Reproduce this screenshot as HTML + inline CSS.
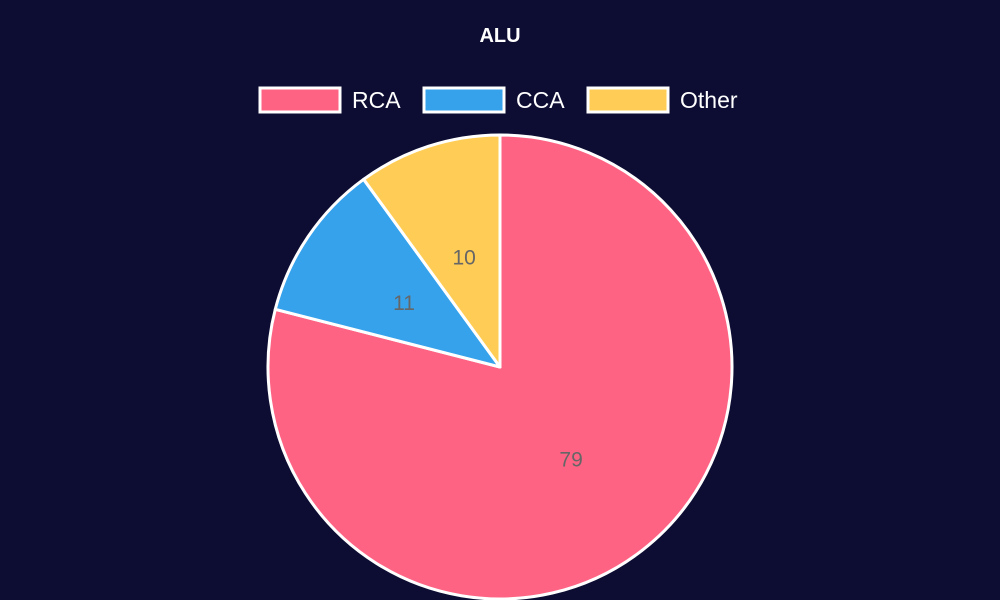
<!DOCTYPE html>
<html><head><meta charset="utf-8"><style>
html,body{margin:0;padding:0;background:#0d0d33;}
svg{display:block;font-family:"Liberation Sans",sans-serif;}
</style></head><body>
<svg id="chart" width="1000" height="600">
<rect width="1000" height="600" fill="#0d0d33"/>
<text x="500" y="42" text-anchor="middle" font-size="20" font-weight="bold" fill="#ffffff">ALU</text>
<g id="legend"></g>
<g id="slices"></g>
<g id="labels"></g>
</svg>
<script>
const categories = ["RCA", "CCA", "Other"];
const values = [79, 11, 10];
const colors = ["#ff6384", "#36a2eb", "#ffcd56"];
const NS = "http://www.w3.org/2000/svg";
const cx = 500, cy = 367, r = 232;
const total = values.reduce((a, b) => a + b, 0);
const slices = document.getElementById("slices");
const labels = document.getElementById("labels");
const legend = document.getElementById("legend");
function pt(a, rad) { return [cx + rad * Math.sin(a), cy - rad * Math.cos(a)]; }
let start = 0;
values.forEach((v, i) => {
  const sweep = v / total * Math.PI * 2;
  const end = start + sweep;
  const p0 = pt(start, r), p1 = pt(end, r);
  const large = sweep > Math.PI ? 1 : 0;
  const path = document.createElementNS(NS, "path");
  path.setAttribute("d", `M${cx},${cy} L${p0[0]},${p0[1]} A${r},${r} 0 ${large} 1 ${p1[0]},${p1[1]} Z`);
  path.setAttribute("fill", colors[i]);
  path.setAttribute("stroke", "#ffffff");
  path.setAttribute("stroke-width", "3");
  path.setAttribute("stroke-linejoin", "round");
  
  
  slices.appendChild(path);
  const mid = start + sweep / 2;
  const lp = pt(mid, r / 2);
  const t = document.createElementNS(NS, "text");
  t.setAttribute("x", lp[0]);
  t.setAttribute("y", lp[1] + 8);
  t.setAttribute("text-anchor", "middle");
  t.setAttribute("font-size", "21");
  t.setAttribute("fill", "#666666");
  t.textContent = v;
  
  
  labels.appendChild(t);
  start = end;
});
const legendX = [260, 424, 588];
categories.forEach((c, i) => {
  const g = document.createElementNS(NS, "g");
  
  
  const rc = document.createElementNS(NS, "rect");
  rc.setAttribute("x", legendX[i]); rc.setAttribute("y", 88);
  rc.setAttribute("width", 80); rc.setAttribute("height", 24);
  rc.setAttribute("fill", colors[i]); rc.setAttribute("stroke", "#ffffff"); rc.setAttribute("stroke-width", "3");
  
  
  g.appendChild(rc);
  const t = document.createElementNS(NS, "text");
  t.setAttribute("x", legendX[i] + 92); t.setAttribute("y", 108);
  t.setAttribute("font-size", "23"); t.setAttribute("fill", "#ffffff");
  t.textContent = c;
  
  
  g.appendChild(t);
  legend.appendChild(g);
});
</script>
</body></html>
